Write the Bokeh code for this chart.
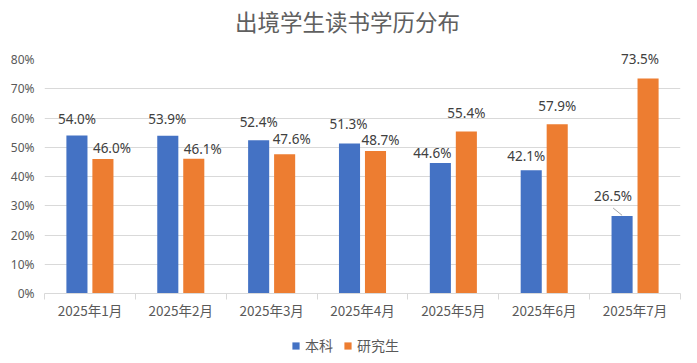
from bokeh.plotting import figure
from bokeh.layouts import column
from bokeh.models import (ColumnDataSource, FixedTicker, PrintfTickFormatter, Range1d,
                          Legend, LegendItem, Label)
from bokeh.core.properties import value
from bokeh.embed import file_html
from bokeh.resources import INLINE

# ---- data ----
months = ["2025年1月", "2025年2月", "2025年3月", "2025年4月", "2025年5月", "2025年6月", "2025年7月"]
undergrad = [54.0, 53.9, 52.4, 51.3, 44.6, 42.1, 26.5]
graduate = [46.0, 46.1, 47.6, 48.7, 55.4, 57.9, 73.5]
series_names = ["本科", "研究生"]
y_ticks = [0, 10, 20, 30, 40, 50, 60, 70, 80]
title_text = "出境学生读书学历分布"

# ---- style ----
BLUE = "#4472C4"
ORANGE = "#ED7D31"
GRID = "#D9D9D9"
TXT = "#595959"
LBL = "#404040"
CJK = "Noto Sans CJK SC"
BAR_W = 0.232
DODGE = 0.143
# data-label nudges in pixels (as placed in the original)
ug_dx = [0, -0.5, 0, -1, -8, -5, -9]
ug_dy = [-17, -17, -18, -19, -10, -14, -20]
gr_dx = [9, 9, 7, 5, 0, 0, -8]
gr_dy = [-11, -10, -15, -11, -18, -18, -20]

W = 697
H_TITLE = 40
H_LEG = 33
H_MAIN = 363 - H_TITLE - H_LEG

n = len(months)
centers = [i + 0.5 for i in range(n)]


def strip(h):
    f = figure(width=W, height=h, output_backend="svg", toolbar_location=None,
               x_range=Range1d(0, n), y_range=Range1d(100, 101),
               x_axis_location=None, y_axis_location=None,
               min_border_left=0, min_border_right=0, min_border_top=0, min_border_bottom=0)
    f.outline_line_color = None
    f.grid.visible = False
    f.background_fill_color = "white"
    f.border_fill_color = "white"
    return f


# ---- title strip ----
t = strip(H_TITLE)
t.add_layout(Label(x=303, y=20, x_units="screen", y_units="screen", text=title_text,
                   text_align="center", text_baseline="middle", text_font=CJK,
                   text_font_size="22.5px", text_color="#606060"))

# ---- main chart ----
p = figure(width=W, height=H_MAIN, output_backend="svg", toolbar_location=None,
           x_range=Range1d(0, n), y_range=Range1d(0, 80),
           min_border_left=44, min_border_right=17, min_border_top=19, min_border_bottom=37)
p.outline_line_color = None
p.background_fill_color = "white"
p.border_fill_color = "white"

ug_src = ColumnDataSource(dict(x=[c - DODGE for c in centers], top=undergrad,
                               lab=[f"{v:.1f}%" for v in undergrad], dx=ug_dx, dy=ug_dy))
gr_src = ColumnDataSource(dict(x=[c + DODGE for c in centers], top=graduate,
                               lab=[f"{v:.1f}%" for v in graduate], dx=gr_dx, dy=gr_dy))

p.vbar(x="x", top="top", width=BAR_W, source=ug_src, fill_color=BLUE, line_color=None)
p.vbar(x="x", top="top", width=BAR_W, source=gr_src, fill_color=ORANGE, line_color=None)

for src in (ug_src, gr_src):
    p.text(x="x", y="top", text="lab", source=src, x_offset="dx", y_offset="dy",
           text_align="center", text_baseline="middle", text_color=LBL,
           text_font=value("Noto Sans"), text_font_size="13.5px", level="overlay")

# leader line for the displaced July label
px_x = 636 / n
px_y = 234 / 80
j = n - 1
p.segment(x0=[centers[j] - DODGE - 9 / px_x], y0=[undergrad[j] + 8 / px_y],
          x1=[centers[j] - DODGE], y1=[undergrad[j] + 0.7 / px_y],
          line_color="#A6A6A6", line_width=1, level="overlay")

# axes
xa = p.xaxis[0]
xa.ticker = FixedTicker(ticks=centers, minor_ticks=list(range(n + 1)))
xa.major_label_overrides = {c: m for c, m in zip(centers, months)}
xa.axis_line_color = GRID
xa.major_tick_line_color = None
xa.major_tick_out = 0
xa.major_tick_in = 0
xa.minor_tick_line_color = GRID
xa.minor_tick_out = 6
xa.minor_tick_in = 0
xa.major_label_standoff = 0
xa.major_label_text_font = CJK
xa.major_label_text_font_size = "13.5px"
xa.major_label_text_color = TXT

ya = p.yaxis[0]
ya.ticker = FixedTicker(ticks=y_ticks)
ya.formatter = PrintfTickFormatter(format="%d%%")
ya.axis_line_color = None
ya.major_tick_line_color = None
ya.minor_tick_line_color = None
ya.major_tick_out = 0
ya.major_label_standoff = 10
ya.major_label_text_font = "Noto Sans"
ya.major_label_text_font_size = "12px"
ya.major_label_text_color = TXT

p.xgrid.grid_line_color = None
p.ygrid.grid_line_color = GRID
p.ygrid.ticker = FixedTicker(ticks=y_ticks)

# ---- legend strip (hidden copies of the series only supply the legend keys) ----
q = strip(H_LEG)
k_ug = q.vbar(x="x", top="top", width=BAR_W, source=ug_src, fill_color=BLUE,
              line_color=None, visible=False)
k_gr = q.vbar(x="x", top="top", width=BAR_W, source=gr_src, fill_color=ORANGE,
              line_color=None, visible=False)
lg = Legend(items=[LegendItem(label=series_names[0], renderers=[k_ug]),
                   LegendItem(label=series_names[1], renderers=[k_gr])],
            orientation="horizontal", location=(247, 8),
            border_line_color=None, background_fill_alpha=0,
            inactive_fill_alpha=0,
            padding=0, margin=0, spacing=10, label_standoff=5,
            glyph_width=9, glyph_height=9,
            label_text_font=CJK, label_text_font_size="14px", label_text_color=TXT)
q.add_layout(lg)

layout = column(t, p, q, spacing=0)
open("out.html", "w").write(file_html(layout, INLINE))
